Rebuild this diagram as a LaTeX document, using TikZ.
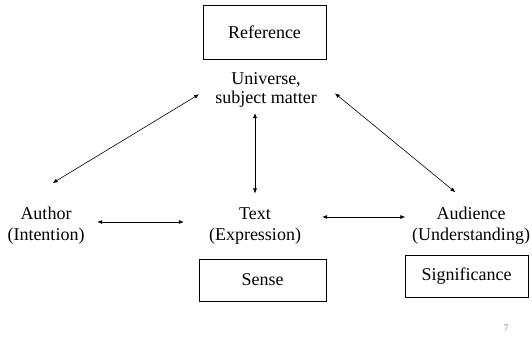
\documentclass[tikz,border=0pt]{standalone}
\usepackage{fontspec}
\setmainfont{Liberation Serif}
\usetikzlibrary{arrows.meta, positioning, calc}

\begin{document}
\begin{tikzpicture}
  [> = {Latex[length=5pt, width=4pt]}, x=1pt, y=1pt,
    font=\fontsize{18}{21}\selectfont,
    block/.style ={
        rectangle,
        draw=black,
        line width=0.9pt,
        % inner sep=4pt,
      },
    term/.style ={
        align=center,
        inner sep=2pt,
      },
    link/.style ={<->, line width=0.6pt},
  ]
  \useasboundingbox (0,0) rectangle (532,-345);

  \node[block, minimum width=123pt, minimum height=54pt] (reference) at (264.5,-32) {Reference};
  \node[term, font=\fontsize{18}{19}\selectfont] (universe) at (266,-89.5) {Universe,\\subject matter};

  \node[term] (author) at (46,-226) {Author\\(Intention)};
  \node[term] (text) at (255,-226) {Text\\(Expression)};
  \node[term] (audience) at (471,-226) {Audience\\(Understanding)};

  \node[block, minimum width=127pt, minimum height=42pt] (sense) at (262.5,-280) {Sense};
  \node[block, minimum width=123pt, minimum height=42pt] (significance) at (466.5,-276) {Significance};

  \node[text=black!45, font=\fontsize{10}{11}\selectfont] (slideno) at (506,-328) {7};

  \draw[link, shorten <=42.6pt, shorten >=16.3pt] (author.145) -- (universe.176);
  \draw[link, shorten <=20.6pt, shorten >=20.2pt] (universe.10) -- (audience.north);
  \draw[link, shorten <=4pt, shorten >=12pt] (universe.south -| text.north) -- (text.north);
  \draw[link, shorten <=10.5pt, shorten >=23pt] ([yshift=4pt]author.east) -- ([yshift=4pt]text.west);
  \draw[link, shorten <=19pt, shorten >=4.5pt] ([yshift=9pt]text.east) -- ([yshift=9pt]audience.west);
\end{tikzpicture}
\end{document}
